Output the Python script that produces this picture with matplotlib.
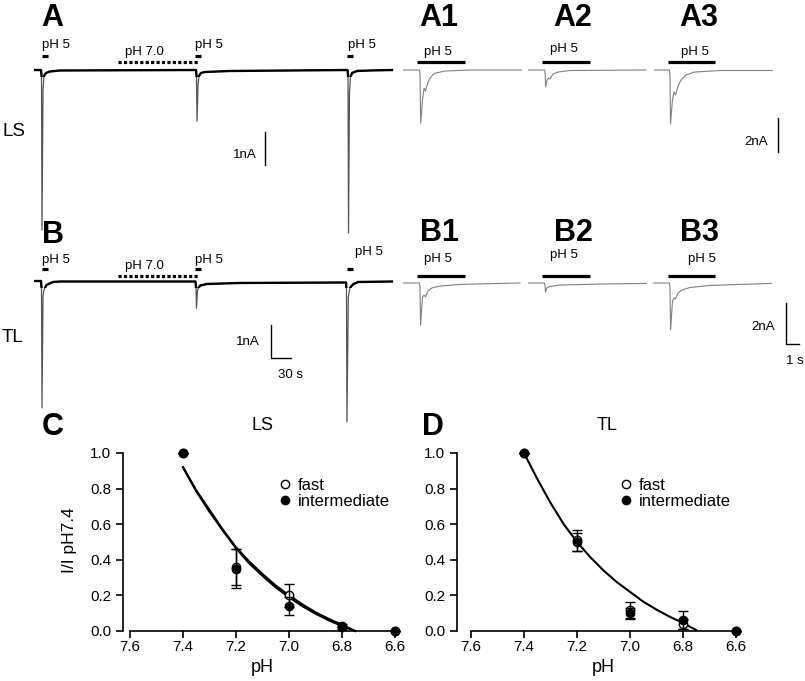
import matplotlib.pyplot as plt
from matplotlib.patches import Rectangle
from matplotlib.lines import Line2D

plt.rcParams['font.family'] = ['Liberation Sans', 'DejaVu Sans']

# ---- data ----
# long recordings (time in s, current in nA)
trace_a_t = [0, 10.0, 10.71, 11.43, 12.86, 14.29, 17.14, 22.86, 37.14, 231.4, 232.1, 232.9, 234.3,
             235.7, 238.6, 244.3, 280, 447.9, 448.6, 449.3, 450.7, 452.1, 454.3, 461.4, 480, 511.4]
trace_a_i = [0, 0, -0.15, -4.85, -0.61, -0.18, -0.09, -0.045, -0.015, 0, -0.15, -1.55, -0.45,
             -0.18, -0.09, -0.06, -0.03, 0, -0.15, -4.94, -0.67, -0.21, -0.09, -0.03, -0.015, 0]
trace_b_t = [0, 10.0, 10.71, 11.43, 12.86, 14.29, 17.86, 27.14, 37.14, 230.7, 231.4, 232.1, 233.6,
             237.1, 247.1, 294.3, 445.7, 446.4, 447.1, 449.0, 451.4, 455.7, 462.9, 511.4]
trace_b_i = [0, 0, -0.18, -3.85, -0.45, -0.27, -0.12, -0.03, -0.015, -0.015, -0.18, -0.82, -0.27,
             -0.14, -0.09, -0.06, -0.045, -0.27, -4.27, -0.48, -0.21, -0.10, -0.03, -0.015]

# short recordings (time in s, current in nA)
a1_t = [0, 1.27, 1.31, 1.36, 1.50, 1.62, 1.73, 1.88, 2.08, 2.38, 3.23, 5.15, 9.15]
a1_i = [0, 0, -0.29, -3.12, -1.76, -1.06, -1.24, -0.82, -0.47, -0.21, -0.06, 0, 0]
a2_t = [0, 1.27, 1.31, 1.36, 1.46, 1.58, 1.69, 1.92, 2.31, 3.23, 9.08]
a2_i = [0, 0, -0.12, -1.0, -0.59, -0.47, -0.53, -0.24, -0.12, -0.03, 0]
a3_t = [0, 1.19, 1.23, 1.27, 1.42, 1.54, 1.65, 1.85, 2.08, 2.46, 3.15, 5.08, 9.08]
a3_i = [0, 0, -0.35, -3.18, -1.76, -1.29, -1.47, -0.94, -0.59, -0.29, -0.12, -0.03, -0.03]
b1_t = [0, 1.27, 1.31, 1.35, 1.50, 1.62, 1.73, 1.92, 2.23, 2.85, 4.38, 7.46, 9.0]
b1_i = [0, 0, -0.24, -2.05, -0.68, -0.59, -0.68, -0.39, -0.24, -0.15, -0.07, -0.02, 0]
b2_t = [0, 1.27, 1.31, 1.35, 1.46, 1.69, 2.46, 5.54, 9.15]
b2_i = [0, 0, -0.15, -0.44, -0.24, -0.17, -0.10, -0.05, -0.02]
b3_t = [0, 1.27, 1.31, 1.35, 1.50, 1.62, 1.73, 1.92, 2.23, 2.85, 4.38, 6.69, 9.15]
b3_i = [0, 0, -0.34, -2.29, -0.88, -0.73, -0.78, -0.49, -0.34, -0.22, -0.12, -0.07, -0.02]

# pH dependence
ph = [7.4, 7.2, 7.0, 6.8, 6.6]
ls_fast = [1.0, 0.36, 0.20, 0.03, 0.0]
ls_fast_err = [0, 0.10, 0.065, 0.01, 0]
ls_int = [1.0, 0.35, 0.14, 0.02, 0.0]
ls_int_err = [0, 0.11, 0.05, 0.01, 0]
tl_fast = [1.0, 0.51, 0.12, 0.04, 0.0]
tl_fast_err = [0, 0.06, 0.045, 0.03, 0]
tl_int = [1.0, 0.50, 0.10, 0.06, 0.0]
tl_int_err = [0, 0.05, 0.03, 0.05, 0]

# fitted curves
fit_ph = [7.40, 7.35, 7.30, 7.25, 7.20, 7.15, 7.10, 7.05, 7.00, 6.95, 6.90, 6.85, 6.80, 6.75]
ls_fast_fit = [0.92, 0.79, 0.68, 0.57, 0.47, 0.39, 0.32, 0.255, 0.20, 0.15, 0.105, 0.068, 0.035, 0.0]
ls_int_fit = [0.92, 0.785, 0.67, 0.565, 0.465, 0.38, 0.31, 0.245, 0.19, 0.14, 0.097, 0.06, 0.028, 0.0]
tl_fit = [1.0, 0.855, 0.72, 0.60, 0.50, 0.415, 0.34, 0.275, 0.22, 0.165, 0.12, 0.08, 0.045, 0.005]

W, H = 805, 681
fig = plt.figure(figsize=(W / 100, H / 100), dpi=100)


def px_axes(left, top, w, h):
    return fig.add_axes([left / W, 1 - (top + h) / H, w / W, h / H])


ov = px_axes(0, 0, W, H)
ov.set_xlim(0, W)
ov.set_ylim(H, 0)
ov.axis('off')


def trace_axes(left, top, w, h, zero_y, px_nA, px_s):
    ax = px_axes(left, top, w, h)
    ax.set_xlim(0, w / px_s)
    ax.set_ylim(-(top + h - zero_y) / px_nA, (zero_y - top) / px_nA)
    ax.axis('off')
    return ax


# long traces
for t, i, top, h, zero in [(trace_a_t, trace_a_i, 20, 220, 70),
                           (trace_b_t, trace_b_i, 230, 200, 281)]:
    ax = trace_axes(34, top, 358, h, zero, 33, 21 / 30)
    ax.plot(t, i, color='#555555', lw=0.9)
    thick, = ax.plot(t, i, color='black', lw=1.7)
    thick.set_clip_path(Rectangle((0, -0.2), 600, 0.4, transform=ax.transData))

# short traces
for t, i, left in [(a1_t, a1_i, 403), (a2_t, a2_i, 528), (a3_t, a3_i, 654)]:
    ax = trace_axes(left, 40, 119, 100, 70, 17, 13)
    ax.plot(t, i, color='#808080', lw=0.8)
for t, i, left in [(b1_t, b1_i, 403), (b2_t, b2_i, 528), (b3_t, b3_i, 653)]:
    ax = trace_axes(left, 250, 119, 100, 283, 20.5, 13)
    ax.plot(t, i, color='#808080', lw=0.8)

# ---- annotations ----
for s, x, y in [('A', 52, 18), ('B', 53, 235), ('A1', 439, 18), ('A2', 573, 18), ('A3', 699, 18),
                ('B1', 439, 233), ('B2', 573, 233), ('B3', 699, 233), ('C', 53, 427), ('D', 433, 427)]:
    ov.text(x, y, s, fontsize=22, fontweight='bold', ha='center', va='center')

ov.text(2, 132, 'LS', fontsize=13.5, va='center')
ov.text(2, 337, 'TL', fontsize=13.5, va='center')
ov.text(262, 425, 'LS', fontsize=13, ha='center', va='center')
ov.text(607, 425, 'TL', fontsize=13, ha='center', va='center')

fs = 9.5
for x, y in [(42, 45), (195, 45), (348, 45), (42, 260), (195, 260), (355, 252)]:
    ov.text(x, y, 'pH 5', fontsize=fs, va='center')
ov.text(125, 52, 'pH 7.0', fontsize=fs, va='center')
ov.text(125, 266, 'pH 7.0', fontsize=fs, va='center')
for x, y in [(438, 52), (564, 49), (695, 52), (438, 259), (564, 255), (702, 259)]:
    ov.text(x, y, 'pH 5', fontsize=fs, ha='center', va='center')

for x0, x1, y in [(42, 48, 56), (195, 201, 56), (347, 353, 56),
                  (42, 48, 269), (195, 201, 269), (347, 353, 269),
                  (417, 465, 62), (542, 590, 62), (668, 715, 62),
                  (417, 465, 276), (542, 590, 276), (668, 715, 276)]:
    ov.plot([x0, x1], [y, y], color='black', lw=2.3, solid_capstyle='butt')
for y in [62, 276]:
    ov.plot([118, 199], [y, y], color='black', lw=2.3, ls=(0, (1, 0.7)))

# scale bars
ov.plot([265, 265], [132, 165], color='black', lw=1)
ov.text(257, 155, '1nA', fontsize=fs, ha='right', va='center')
ov.plot([271, 271, 291], [325, 358, 358], color='black', lw=1)
ov.text(260, 342, '1nA', fontsize=fs, ha='right', va='center')
ov.text(290, 375, '30 s', fontsize=fs, ha='center', va='center')
ov.plot([778, 778], [118, 152], color='black', lw=1)
ov.text(768, 142, '2nA', fontsize=fs, ha='right', va='center')
ov.plot([786, 786, 799], [303, 344, 344], color='black', lw=1)
ov.text(775, 327, '2nA', fontsize=fs, ha='right', va='center')
ov.text(795, 361, '1 s', fontsize=fs, ha='center', va='center')


# ---- C and D ----
def ph_panel(left, offset, fast, fast_err, inter, inter_err, fits):
    ax = px_axes(left, 453, 265, 178)
    ax.set_xlim(7.6, 6.6)
    ax.set_ylim(0, 1.0)
    for f in fits:
        ax.plot(fit_ph, f, color='black', lw=1.5, clip_on=False)
    for vals, err, face in [(fast, fast_err, 'white'), (inter, inter_err, 'black')]:
        c = ax.errorbar(ph, vals, yerr=err, fmt='o', mfc=face, mec='black', ms=6,
                        ecolor='black', elinewidth=1, capsize=3.5, capthick=1)
        for a in c.get_children():
            a.set_clip_on(False)
            a.set_zorder(3)
    ax.spines['top'].set_visible(False)
    ax.spines['right'].set_visible(False)
    ax.spines['left'].set_position(('outward', offset))
    for sp in ['left', 'bottom']:
        ax.spines[sp].set_linewidth(1.2)
    ax.set_xticks([7.6, 7.4, 7.2, 7.0, 6.8, 6.6])
    ax.set_xticklabels(['7.6', '7.4', '7.2', '7.0', '6.8', '6.6'])
    ax.set_yticks([0, 0.2, 0.4, 0.6, 0.8, 1.0])
    ax.set_yticklabels(['0.0', '0.2', '0.4', '0.6', '0.8', '1.0'])
    ax.tick_params(direction='out', length=5, width=1.2, labelsize=11)
    ax.tick_params(axis='x', pad=1.5)
    ax.set_xlabel('pH', fontsize=13)
    ax.xaxis.set_label_coords(0.5, -0.155)
    handles = [Line2D([], [], marker='o', ls='', mfc='white', mec='black', ms=6),
               Line2D([], [], marker='o', ls='', mfc='black', mec='black', ms=6)]
    ax.legend(handles, ['fast', 'intermediate'], loc='upper left', bbox_to_anchor=(0.558, 0.86),
              frameon=False, fontsize=12, handlelength=0.8, handletextpad=0.4,
              labelspacing=0.05, borderpad=0, borderaxespad=0)
    ax.patch.set_alpha(0)
    return ax


axC = ph_panel(130, 5, ls_fast, ls_fast_err, ls_int, ls_int_err, [ls_fast_fit, ls_int_fit])
axC.set_ylabel('I/I pH7.4', fontsize=12.5)
axC.yaxis.set_label_coords(-0.2, 0.51)
axD = ph_panel(471, 10, tl_fast, tl_fast_err, tl_int, tl_int_err, [tl_fit])

fig.savefig('out.png', dpi=100)
